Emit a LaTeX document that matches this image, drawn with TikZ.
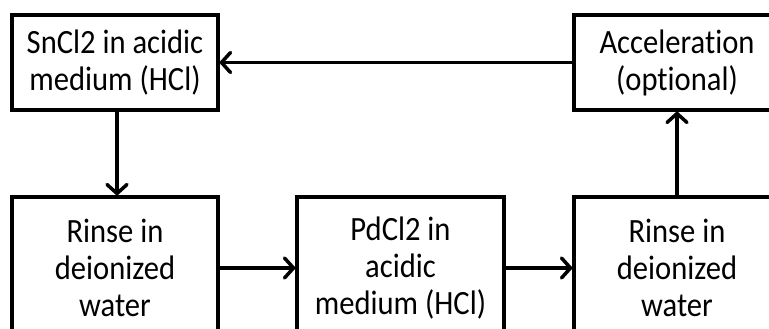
\documentclass[tikz,border=0pt]{standalone}
\usepackage{fontspec}
\setmainfont{Carlito}[FakeStretch=0.9, Ligatures=NoCommon]
\usetikzlibrary{arrows.meta}
\begin{document}
\begin{tikzpicture}[x=1pt,y=-1pt,
  box/.style={draw, line width=3.5pt, align=center, inner sep=0pt,
    font=\fontsize{34}{37}\selectfont},
  topbox/.style={box, minimum width=206pt, minimum height=95pt},
  botbox/.style={box, minimum width=206pt, minimum height=142pt},
  conn/.style={line width=3.5pt, -{Straight Barb[length=9pt,width=20pt,round]}}]
\useasboundingbox (0,0) rectangle (769,329);
\clip (0,0) rectangle (769,329);
\node[topbox] (sn) at (115,62.5) {SnCl2 in acidic\\medium (HCl)};
\node[topbox] (acc) at (677,62.5) {Acceleration\\(optional)};
\node[botbox] (r1) at (115,268) {Rinse in\\deionized\\water};
\node[botbox, minimum width=207pt] (pd) at (400.5,268) {PdCl2 in\\acidic\\medium (HCl)};
\node[botbox] (r2) at (677,268) {Rinse in\\deionized\\water};
\draw[conn] (acc.west) -- (sn.east);
\draw[conn] ([xshift=2pt]sn.south) -- ([xshift=2pt]r1.north);
\draw[conn] (r1.east) -- (pd.west);
\draw[conn] (pd.east) -- (r2.west);
\draw[conn] (r2.north) -- (acc.south);
\end{tikzpicture}
\end{document}
